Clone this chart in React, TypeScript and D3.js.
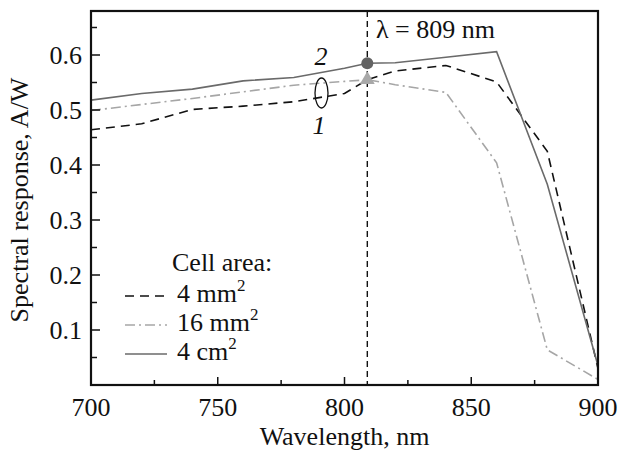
import React from 'react';
import * as d3 from 'd3';

// wavelengths (nm) and spectral response (A/W) for each cell area
const wavelengths = [700, 720, 740, 760, 780, 800, 809, 820, 840, 860, 880, 900];
const resp4mm2 = [0.464, 0.475, 0.501, 0.507, 0.515, 0.530, 0.555, 0.571, 0.581, 0.551, 0.425, 0.030];
const resp16mm2 = [0.499, 0.510, 0.521, 0.533, 0.545, 0.552, 0.555, 0.546, 0.532, 0.404, 0.064, 0.010];
const resp4cm2 = [0.518, 0.530, 0.538, 0.553, 0.559, 0.576, 0.585, 0.586, 0.596, 0.606, 0.365, 0.035];

const xMajorTicks = [700, 750, 800, 850, 900];
const xMinorTicks = [725, 775, 825, 875];
const yMajorTicks = [0.1, 0.2, 0.3, 0.4, 0.5, 0.6];
const yMinorTicks = [0.05, 0.15, 0.25, 0.35, 0.45, 0.55, 0.65];

const markWavelength = 809;
const markCircle = 0.585;
const markTriangle = 0.555;

const legendItems = [
  { label: '4 mm', sup: '2', values: resp4mm2, color: '#111', dash: '9,6', width: 1.6 },
  { label: '16 mm', sup: '2', values: resp16mm2, color: '#a6a6a6', dash: '10,4,2,4', width: 1.6 },
  { label: '4 cm', sup: '2', values: resp4cm2, color: '#6a6a6a', dash: null, width: 1.6 },
];

const width = 619;
const height = 452;
const margin = { left: 91, right: 21, top: 11, bottom: 67 };
const font = '"Liberation Serif", "Times New Roman", serif';

export default function App() {
  const x = d3.scaleLinear().domain([700, 900]).range([margin.left, width - margin.right]);
  const y = d3.scaleLinear().domain([0, 0.68]).range([height - margin.bottom, margin.top]);

  const lineFun = (vals: number[]) =>
    d3.line<number>()
      .x((d, i) => x(wavelengths[i]))
      .y(d => y(d))(vals);

  const x0 = x.range()[0];
  const x1 = x.range()[1];
  const y0 = y.range()[0];
  const y1 = y.range()[1];

  const mx = x(markWavelength);
  const ty = y(markTriangle);
  const tri = d3.symbol().type(d3.symbolTriangle).size(95)();

  const legX = 125;
  const legRows = [302, 331, 360];

  return (
    <svg width={width} height={height}
      style={{ position: 'absolute', left: 0, top: 0, display: 'block', background: '#fff' }}
      fontFamily={font}>
      <rect x={0} y={0} width={width} height={height} fill="#fff" />

      {/* curves */}
      {legendItems.map((item, i) => (
        <path key={i} d={lineFun(item.values) || ''} fill="none"
          stroke={item.color} strokeWidth={item.width}
          strokeDasharray={item.dash || undefined} />
      ))}

      {/* marker line at 809 nm */}
      <line x1={mx} x2={mx} y1={y1} y2={y0} stroke="#111" strokeWidth={1.4} strokeDasharray="6,4" />
      <circle cx={mx} cy={y(markCircle)} r={6} fill="#636363" />
      <path d={tri || ''} transform={`translate(${mx}, ${ty})`} fill="#a8a8a8" />
      <text x={376} y={38} fontSize={26} fill="#111">λ = 809 nm</text>

      {/* curve labels */}
      <ellipse cx={321.5} cy={93} rx={6.5} ry={15} fill="none" stroke="#111" strokeWidth={1.3} />
      <text x={321} y={65} fontSize={26} fontStyle="italic" textAnchor="middle" fill="#111">2</text>
      <text x={319} y={134} fontSize={26} fontStyle="italic" textAnchor="middle" fill="#111">1</text>

      {/* frame */}
      <rect x={x0} y={y1} width={x1 - x0} height={y0 - y1} fill="none" stroke="#111" strokeWidth={2.2} />

      {/* x ticks */}
      {xMajorTicks.map(t => (
        <g key={'xm' + t}>
          <line x1={x(t)} x2={x(t)} y1={y0} y2={y0 - 8} stroke="#111" strokeWidth={1.5} />
          <text x={x(t)} y={416} fontSize={26} textAnchor="middle" fill="#111">{t}</text>
        </g>
      ))}
      {xMinorTicks.map(t => (
        <line key={'xn' + t} x1={x(t)} x2={x(t)} y1={y0} y2={y0 - 5} stroke="#111" strokeWidth={1.5} />
      ))}

      {/* y ticks */}
      {yMajorTicks.map(t => (
        <g key={'ym' + t}>
          <line x1={x0} x2={x0 + 9} y1={y(t)} y2={y(t)} stroke="#111" strokeWidth={1.5} />
          <text x={82} y={y(t)} dy="0.35em" fontSize={26} textAnchor="end" fill="#111">{t.toFixed(1)}</text>
        </g>
      ))}
      {yMinorTicks.map(t => (
        <line key={'yn' + t} x1={x0} x2={x0 + 6} y1={y(t)} y2={y(t)} stroke="#111" strokeWidth={1.5} />
      ))}

      {/* axis titles */}
      <text x={(x0 + x1) / 2} y={445} fontSize={26} textAnchor="middle" fill="#111">Wavelength, nm</text>
      <text transform={`translate(28, 200) rotate(-90)`} fontSize={26} textAnchor="middle" fill="#111">
        Spectral response, A/W
      </text>

      {/* legend */}
      <text x={172} y={271} fontSize={26} fill="#111">Cell area:</text>
      {legendItems.map((item, i) => (
        <g key={'leg' + i}>
          <line x1={legX} x2={legX + 42} y1={legRows[i] - 6} y2={legRows[i] - 6}
            stroke={item.color} strokeWidth={item.width} strokeDasharray={item.dash || undefined} />
          <text x={177} y={legRows[i]} fontSize={26} fill="#111">
            {item.label}
            <tspan fontSize={17} dy={-11}>{item.sup}</tspan>
          </text>
        </g>
      ))}
    </svg>
  );
}
